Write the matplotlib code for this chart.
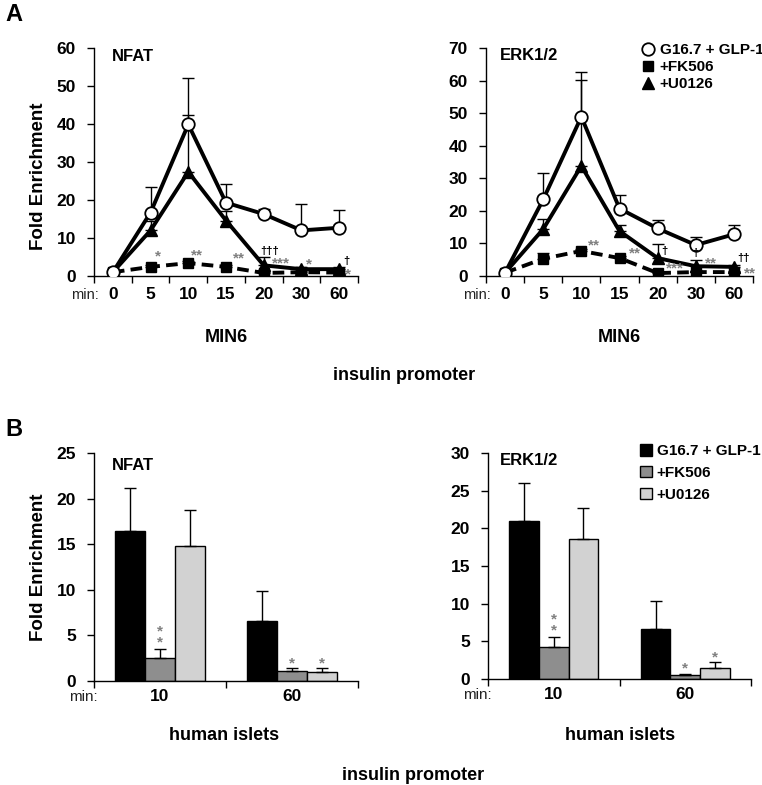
import numpy as np
import matplotlib.pyplot as plt
from matplotlib.lines import Line2D
from matplotlib.patches import Patch

plt.rcParams['font.family'] = ['Liberation Sans', 'DejaVu Sans']

minutes = ["0", "5", "10", "15", "20", "30", "60"]
islet_minutes = ["10", "60"]
series_names = ["G16.7 + GLP-1", "+FK506", "+U0126"]

# MIN6, NFAT (fold enrichment, upper error)
nfat_ctrl = [1.0, 16.7, 39.9, 19.3, 16.3, 12.0, 12.7]
nfat_ctrl_err = [0.0, 6.7, 12.1, 4.9, 1.3, 7.0, 4.6]
nfat_fk = [1.0, 2.4, 3.4, 2.4, 0.8, 1.0, 0.9]
nfat_fk_err = [0.0, 0.5, 0.5, 0.4, 0.3, 0.3, 0.3]
nfat_u0 = [1.0, 12.0, 27.4, 14.6, 2.8, 1.8, 1.8]
nfat_u0_err = [0.0, 2.6, 14.9, 2.5, 2.2, 0.5, 0.5]

# MIN6, ERK1/2
erk_ctrl = [1.0, 23.5, 48.9, 20.7, 14.6, 9.5, 12.8]
erk_ctrl_err = [0.0, 8.2, 13.7, 4.3, 2.5, 2.5, 3.0]
erk_fk = [1.0, 5.3, 7.7, 5.5, 0.9, 1.2, 1.2]
erk_fk_err = [0.0, 1.8, 0.5, 0.5, 0.3, 0.3, 0.3]
erk_u0 = [1.0, 14.4, 33.8, 13.8, 5.5, 3.0, 2.8]
erk_u0_err = [0.0, 3.2, 26.5, 2.0, 4.4, 2.0, 0.5]

# human islets, NFAT
hi_nfat_ctrl = [16.5, 6.6]
hi_nfat_ctrl_err = [4.7, 3.25]
hi_nfat_fk = [2.5, 1.06]
hi_nfat_fk_err = [1.0, 0.35]
hi_nfat_u0 = [14.8, 0.95]
hi_nfat_u0_err = [3.95, 0.45]

# human islets, ERK1/2
hi_erk_ctrl = [21.0, 6.7]
hi_erk_ctrl_err = [5.0, 3.65]
hi_erk_fk = [4.2, 0.53]
hi_erk_fk_err = [1.4, 0.17]
hi_erk_u0 = [18.6, 1.4]
hi_erk_u0_err = [4.1, 0.8]

dark_gray = "#8e8e8e"
light_gray = "#d2d2d2"
star_gray = "#808080"


def style_axes(ax, ncat, labels, ymax, step):
    for s in ["top", "right"]:
        ax.spines[s].set_visible(False)
    ax.spines["left"].set_linewidth(1.0)
    ax.spines["bottom"].set_linewidth(1.0)
    ax.set_xlim(-0.5, ncat - 0.5)
    ax.set_ylim(0, ymax)
    ax.set_xticks(np.arange(ncat))
    ax.set_xticklabels(labels, fontsize=12.5, fontweight="bold")
    ax.set_xticks(np.arange(-0.5, ncat), minor=True)
    ax.tick_params(axis="x", which="major", length=0, pad=8)
    ax.tick_params(axis="x", which="minor", length=5, width=1, direction="out")
    ax.set_yticks(np.arange(0, ymax + 1, step))
    ax.tick_params(axis="y", length=5, width=1, pad=8, labelsize=12.5)
    for t in ax.get_yticklabels():
        t.set_fontweight("bold")


def line_panel(ax, ctrl, ctrl_err, fk, fk_err, u0, u0_err, ymax):
    x = np.arange(len(minutes))
    z = np.zeros(len(x))
    for vals, errs in [(ctrl, ctrl_err), (fk, fk_err), (u0, u0_err)]:
        ax.errorbar(x, vals, yerr=[z, errs], fmt="none", ecolor="k",
                    elinewidth=1, capsize=4, capthick=1, zorder=2)
    ax.plot(x, fk, ls=(0, (3, 1.6)), lw=2.8, color="k", marker="s", ms=6.5, zorder=3)
    ax.plot(x, u0, "-", lw=2.8, color="k", marker="^", ms=8, zorder=4)
    ax.plot(x, ctrl, "-", lw=2.8, color="k", marker="o", ms=9, mfc="white",
            mec="k", mew=1.3, zorder=5)
    style_axes(ax, len(x), minutes, ymax, 10)
    ax.text(-0.38, -0.083, "min:", transform=ax.get_xaxis_transform(),
            ha="right", va="center", fontsize=10.5, color="#222222")


def bar_panel(ax, ctrl, ctrl_err, fk, fk_err, u0, u0_err, ymax):
    x = np.arange(len(islet_minutes))
    w = 0.225
    z = np.zeros(len(x))
    for off, vals, errs, col in [(-w, ctrl, ctrl_err, "black"),
                                 (0, fk, fk_err, dark_gray),
                                 (w, u0, u0_err, light_gray)]:
        ax.bar(x + off, vals, w, color=col, edgecolor="k", lw=1,
               yerr=[z, errs], capsize=4,
               error_kw=dict(elinewidth=1, capthick=1, ecolor="k"))
    style_axes(ax, len(x), islet_minutes, ymax, 5)
    ax.tick_params(axis="x", which="major", pad=6)
    ax.text(-0.47, -0.07, "min:", transform=ax.get_xaxis_transform(),
            ha="right", va="center", fontsize=11, color="#222222")


def mark(ax, x, y, txt, dx, dy, color=star_gray, size=11):
    ax.annotate(txt, (x, y), xytext=(dx, dy), textcoords="offset pixels",
                ha="center", va="center", color=color, fontsize=size,
                fontweight="bold", linespacing=0.75, zorder=6)


fig = plt.figure(figsize=(7.62, 7.85), dpi=100)
W, H = 762.0, 785.0
axA1 = fig.add_axes([94 / W, 1 - 276 / H, 264 / W, 228 / H])
axA2 = fig.add_axes([486 / W, 1 - 276 / H, 267 / W, 228 / H])
axB1 = fig.add_axes([94 / W, 1 - 681 / H, 264 / W, 228 / H])
axB2 = fig.add_axes([488 / W, 1 - 679 / H, 263 / W, 226 / H])

line_panel(axA1, nfat_ctrl, nfat_ctrl_err, nfat_fk, nfat_fk_err, nfat_u0, nfat_u0_err, 60)
line_panel(axA2, erk_ctrl, erk_ctrl_err, erk_fk, erk_fk_err, erk_u0, erk_u0_err, 70)
bar_panel(axB1, hi_nfat_ctrl, hi_nfat_ctrl_err, hi_nfat_fk, hi_nfat_fk_err,
          hi_nfat_u0, hi_nfat_u0_err, 25)
bar_panel(axB2, hi_erk_ctrl, hi_erk_ctrl_err, hi_erk_fk, hi_erk_fk_err,
          hi_erk_u0, hi_erk_u0_err, 30)

# significance marks, MIN6 NFAT
mark(axA1, 1, nfat_fk[1], "*", 7, 10)
mark(axA1, 2, nfat_fk[2], "**", 9, 8)
mark(axA1, 3, nfat_fk[3], "**", 13, 8)
mark(axA1, 4, nfat_u0[4], "†††", 6, 14, "k", 8)
mark(axA1, 4, nfat_fk[4], "***", 17, 9)
mark(axA1, 5, nfat_u0[5], "*", 8, 5)
mark(axA1, 6, nfat_u0[6], "†", 7, 8, "k", 8)
mark(axA1, 6, nfat_fk[6], "*", 9, -2)

# significance marks, MIN6 ERK1/2
mark(axA2, 2, erk_fk[2], "**", 13, 5)
mark(axA2, 3, erk_fk[3], "**", 15, 5)
mark(axA2, 4, erk_u0[4], "†", 7, 7, "k", 8)
mark(axA2, 4, erk_fk[4], "***", 17, 5)
mark(axA2, 5, erk_u0[5], "†", 0, 13, "k", 8)
mark(axA2, 5, erk_u0[5], "**", 15, 3)
mark(axA2, 6, erk_u0[6], "††", 10, 9, "k", 8)
mark(axA2, 6, erk_fk[6], "**", 16, -1)

# significance marks, human islets
w = 0.225
mark(axB1, 0, hi_nfat_fk[0] + hi_nfat_fk_err[0], "*\n*", 0, 12)
mark(axB1, 1, hi_nfat_fk[1] + hi_nfat_fk_err[1], "*", 0, 5)
mark(axB1, 1 + w, hi_nfat_u0[1] + hi_nfat_u0_err[1], "*", 0, 5)
mark(axB2, 0, hi_erk_fk[0] + hi_erk_fk_err[0], "*\n*", 0, 12)
mark(axB2, 1, hi_erk_fk[1] + hi_erk_fk_err[1], "*", 0, 5)
mark(axB2, 1 + w, hi_erk_u0[1] + hi_erk_u0_err[1], "*", 0, 5)

# panel titles
axA1.text(0.068, 0.995, "NFAT", transform=axA1.transAxes, ha="left", va="top",
          fontsize=12, fontweight="bold")
axA2.text(0.052, 1.0, "ERK1/2", transform=axA2.transAxes, ha="left", va="top",
          fontsize=12, fontweight="bold")
axB1.text(0.068, 0.98, "NFAT", transform=axB1.transAxes, ha="left", va="top",
          fontsize=12, fontweight="bold")
axB2.text(0.045, 1.0, "ERK1/2", transform=axB2.transAxes, ha="left", va="top",
          fontsize=12, fontweight="bold")

# legends
line_handles = [
    Line2D([], [], ls="none", marker="o", ms=9, mfc="white", mec="k", mew=1.3),
    Line2D([], [], ls="none", marker="s", ms=7, color="k"),
    Line2D([], [], ls="none", marker="^", ms=8, color="k"),
]
fig.legend(line_handles, series_names, loc="upper left",
           bbox_to_anchor=(640 / W, 1 - 43 / H), frameon=False,
           borderpad=0, borderaxespad=0, handlelength=1.0, handletextpad=0.3,
           labelspacing=0.2, prop=dict(size=11, weight="bold"))
bar_handles = [
    Patch(facecolor="black", edgecolor="k", lw=1),
    Patch(facecolor=dark_gray, edgecolor="k", lw=1),
    Patch(facecolor=light_gray, edgecolor="k", lw=1),
]
fig.legend(bar_handles, series_names, loc="upper left",
           bbox_to_anchor=(640 / W, 1 - 444 / H), frameon=False,
           borderpad=0, borderaxespad=0, handlelength=0.8, handleheight=0.8,
           handletextpad=0.3, labelspacing=0.5, prop=dict(size=11, weight="bold"))

# figure labels
fig.text(5 / W, 1 - 3 / H, "A", ha="left", va="top", fontsize=17, fontweight="bold")
fig.text(5 / W, 1 - 418 / H, "B", ha="left", va="top", fontsize=17, fontweight="bold")
for yc in [176, 567]:
    fig.text(39 / W, 1 - yc / H, "Fold Enrichment", rotation=90, ha="center",
             va="center", fontsize=13.5, fontweight="bold")
fig.text(226 / W, 1 - 337 / H, "MIN6", ha="center", va="center", fontsize=13, fontweight="bold")
fig.text(619 / W, 1 - 337 / H, "MIN6", ha="center", va="center", fontsize=13, fontweight="bold")
fig.text(404 / W, 1 - 375 / H, "insulin promoter", ha="center", va="center",
         fontsize=13, fontweight="bold")
fig.text(224 / W, 1 - 736 / H, "human islets", ha="center", va="center",
         fontsize=13, fontweight="bold")
fig.text(620 / W, 1 - 736 / H, "human islets", ha="center", va="center",
         fontsize=13, fontweight="bold")
fig.text(413 / W, 1 - 776 / H, "insulin promoter", ha="center", va="center",
         fontsize=13, fontweight="bold")

fig.savefig("out.png", dpi=100)
